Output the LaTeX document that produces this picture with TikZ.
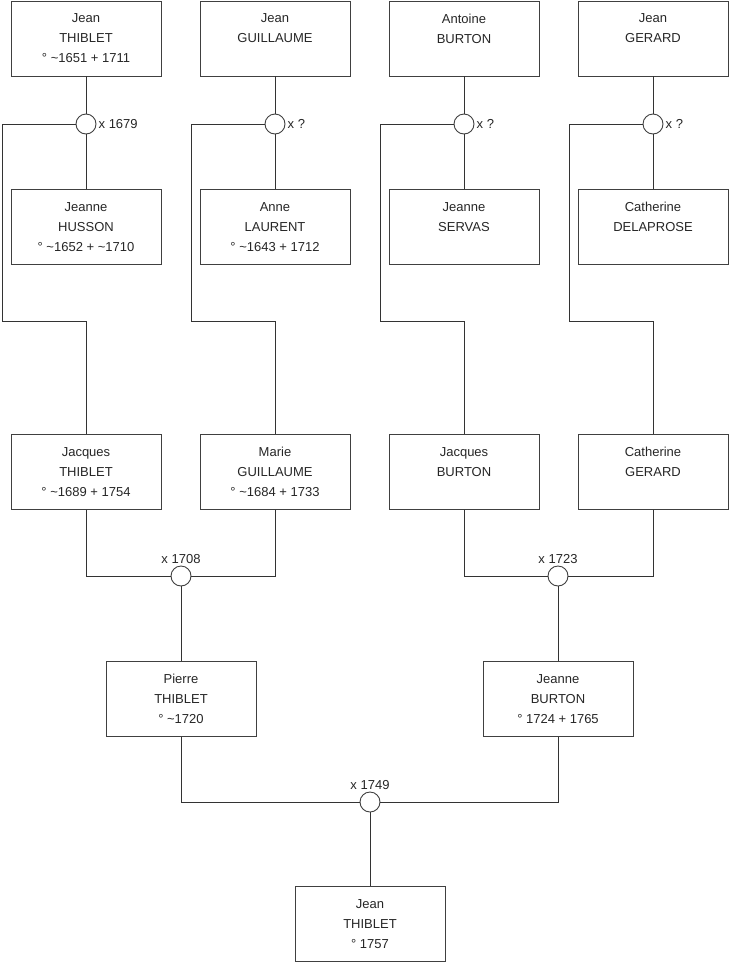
\documentclass[tikz,border=0pt]{standalone}
\usepackage{fontspec}
\setmainfont{Liberation Sans}
\begin{document}
\begin{tikzpicture}[x=1pt,y=-1pt,
  person/.style={draw=black!75,line width=0.9pt,minimum width=150pt,minimum height=75pt,
    inner sep=0pt,align=center,font=\fontsize{13}{20}\selectfont,text=black!85},
  union/.style={circle,draw=black!75,line width=0.9pt,fill=white,minimum size=20pt,inner sep=0pt},
  ulab/.style={font=\fontsize{13}{15}\selectfont,text=black!85,inner sep=2pt},
  link/.style={draw=black!80,line width=0.9pt}]
\useasboundingbox (0,0) rectangle (740,975);
% generation 1
\node[person] (b1) at (86,38.5) {Jean\\THIBLET\\° \textasciitilde1651 + 1711};
\node[person] (b2) at (275,38.5) {Jean\\GUILLAUME\\\mbox{}};
\node[person] (b3) at (464,38.5) {Antoine\\BURTON\\\mbox{}};
\node[person] (b4) at (653,38.5) {Jean\\GERARD\\\mbox{}};
% unions
\node[union,label={[ulab]right:x 1679}] (c1) at (86,124) {};
\node[union,label={[ulab]right:x ?}] (c2) at (275,124) {};
\node[union,label={[ulab]right:x ?}] (c3) at (464,124) {};
\node[union,label={[ulab]right:x ?}] (c4) at (653,124) {};
% wives
\node[person] (b5) at (86,227) {Jeanne\\HUSSON\\° \textasciitilde1652 + \textasciitilde1710};
\node[person] (b6) at (275,227) {Anne\\LAURENT\\° \textasciitilde1643 + 1712};
\node[person] (b7) at (464,227) {Jeanne\\SERVAS\\\mbox{}};
\node[person] (b8) at (653,227) {Catherine\\DELAPROSE\\\mbox{}};
% generation 3
\node[person] (b9) at (86,472) {Jacques\\THIBLET\\° \textasciitilde1689 + 1754};
\node[person] (b10) at (275,472) {Marie\\GUILLAUME\\° \textasciitilde1684 + 1733};
\node[person] (b11) at (464,472) {Jacques\\BURTON\\\mbox{}};
\node[person] (b12) at (653,472) {Catherine\\GERARD\\\mbox{}};
\node[union,label={[ulab]above:x 1708}] (m1) at (181,576) {};
\node[union,label={[ulab]above:x 1723}] (m2) at (558,576) {};
% generation 4
\node[person] (b13) at (181,699) {Pierre\\THIBLET\\° \textasciitilde1720};
\node[person] (b14) at (558,699) {Jeanne\\BURTON\\° 1724 + 1765};
\node[union,label={[ulab]above:x 1749}] (m3) at (370,802) {};
\node[person] (b15) at (370,924) {Jean\\THIBLET\\° 1757};
% routing coordinates
\coordinate (k1a) at (2,124);   \coordinate (k1b) at (2,321);
\coordinate (k2a) at (191,124); \coordinate (k2b) at (191,321);
\coordinate (k3a) at (380,124); \coordinate (k3b) at (380,321);
\coordinate (k4a) at (569,124); \coordinate (k4b) at (569,321);
% connectors
\foreach \f/\c/\w in {b1/c1/b5,b2/c2/b6,b3/c3/b7,b4/c4/b8}{
  \draw[link] (\f.south) -- (\c.north);
  \draw[link] (\c.south) -- (\w.north);
}
\draw[link] (c1.west) -- (k1a) -- (k1b) -| (b9.north);
\draw[link] (c2.west) -- (k2a) -- (k2b) -| (b10.north);
\draw[link] (c3.west) -- (k3a) -- (k3b) -| (b11.north);
\draw[link] (c4.west) -- (k4a) -- (k4b) -| (b12.north);
\draw[link] (b9.south) |- (m1.west);
\draw[link] (b10.south) |- (m1.east);
\draw[link] (b11.south) |- (m2.west);
\draw[link] (b12.south) |- (m2.east);
\draw[link] (m1.south) -- (b13.north);
\draw[link] (m2.south) -- (b14.north);
\draw[link] (b13.south) |- (m3.west);
\draw[link] (b14.south) |- (m3.east);
\draw[link] (m3.south) -- (b15.north);
\end{tikzpicture}
\end{document}
